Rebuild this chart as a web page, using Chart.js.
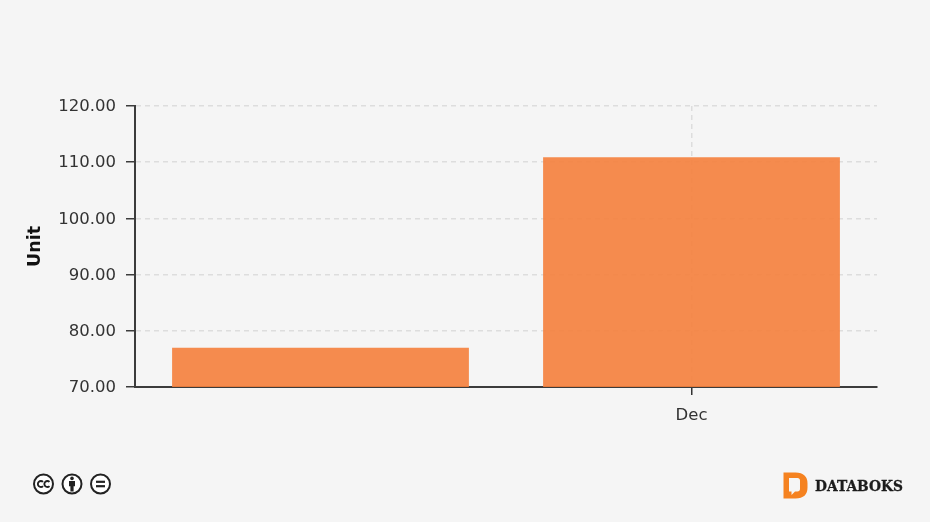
<!DOCTYPE html>
<html>
<head>
<meta charset="utf-8">
<style>
html,body{margin:0;padding:0;background:#f5f5f5;width:930px;height:522px;overflow:hidden}
#wrap{position:absolute;left:0;top:0;width:930px;height:522px}
#logos{position:absolute;left:0;top:0}
</style>
<script src="https://cdn.jsdelivr.net/npm/chart.js@4"></script>
</head>
<body>
<div id="wrap"><canvas id="c" width="930" height="522"></canvas></div>
<svg id="logos" width="930" height="522" viewBox="0 0 930 522">
  <g fill="#fff" stroke="#222" stroke-width="2">
    <circle cx="43.500" cy="484" r="9.500"/>
    <circle cx="72" cy="484" r="9.500"/>
    <circle cx="100.500" cy="484" r="9.500"/>
  </g>
  <g fill="none" stroke="#222" stroke-width="1.900">
    <path d="M43 481.900a3 3 0 1 0 0 4.200"/>
    <path d="M49.500 481.900a3 3 0 1 0 0 4.200"/>
  </g>
  <g fill="#222">
    <circle cx="72" cy="478.400" r="1.800"/>
    <path d="M69 481h6v5.200h-1.400v5.300h-3.200v-5.300H69z"/>
    <rect x="96" y="480.700" width="9" height="2.200"/>
    <rect x="96" y="485.100" width="9" height="2.200"/>
  </g>
  <path fill="#f58220" fill-rule="evenodd" d="M783.500 472.500h12c8 0 12 4 12 11v4c0 7-4 11-12 11h-12zM789 478v13.500h2.500v3.500l3.500-3.500h2.500c1.500 0 2.500-1 2.500-2.500v-8.500c0-1.500-1-2.500-2.500-2.500z"/>
  <text x="815" y="491" font-family="'DejaVu Serif'" font-weight="700" font-size="14" fill="#1c1c1c" stroke="#1c1c1c" stroke-width="0.300" textLength="88" lengthAdjust="spacingAndGlyphs">DATABOKS</text>
</svg>
<script>
const categories = ["", "Dec"];
const unitValues = [77, 110.9];
const yTicks = [70, 80, 90, 100, 110, 120];
const yTitle = "Unit";

const tickFont = {family: "'DejaVu Sans'", size: 16.5};
new Chart(document.getElementById("c"), {
  type: "bar",
  data: {
    labels: categories,
    datasets: [{
      data: unitValues,
      backgroundColor: "rgba(245,127,60,0.9)",
      borderWidth: 0,
      barPercentage: 0.8,
      categoryPercentage: 1
    }]
  },
  options: {
    responsive: false,
    animation: false,
    layout: {padding: {left: 25, right: 53, top: 106, bottom: 0}},
    plugins: {legend: {display: false}, tooltip: {enabled: false}, title: {display: false}},
    scales: {
      x: {
        afterFit: s => { s.height = 135; },
        border: {color: "#3c3c3c", width: 2, dash: [5, 4]},
        grid: {
          offset: false,
          color: c => c.index === 1 ? "#dddddd" : "transparent",
          tickColor: c => c.index === 1 ? "#333" : "transparent",
          tickLength: 8,
          tickBorderDash: [],
          lineWidth: 1.5
        },
        ticks: {color: "#333", font: tickFont, padding: 11, maxRotation: 0}
      },
      y: {
        min: 70,
        max: 120,
        afterBuildTicks: s => { s.ticks = yTicks.map(v => ({value: v})); },
        afterFit: s => { s.width = 110; },
        border: {color: "#3c3c3c", width: 2, dash: [5, 4]},
        grid: {
          color: "#dddddd",
          tickColor: "#3c3c3c",
          tickLength: 9,
          tickBorderDash: [],
          lineWidth: 1.5
        },
        ticks: {
          color: "#333", font: tickFont, padding: 10, labelOffset: 1,
          callback: v => Number(v).toFixed(2)
        },
        title: {display: true, text: yTitle, color: "#111", font: {family: "'DejaVu Sans'", size: 17.5, weight: "bold"}, padding: 0}
      }
    }
  }
});
</script>
</body>
</html>
